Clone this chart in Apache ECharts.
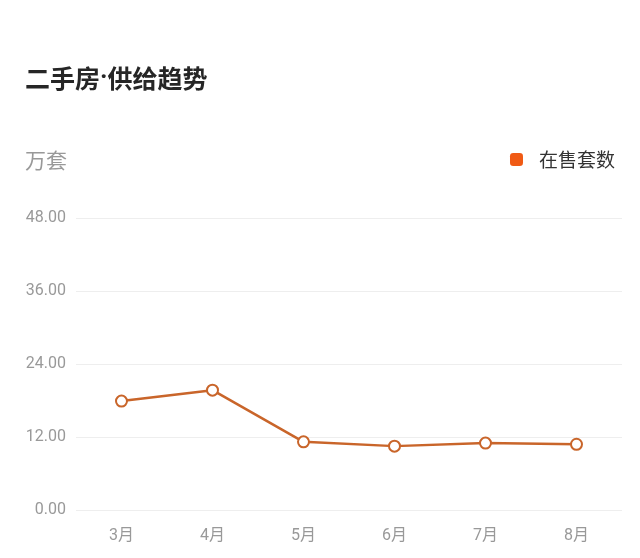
<!DOCTYPE html>
<html>
<head>
<meta charset="utf-8">
<script src="https://cdn.jsdelivr.net/npm/echarts@6/dist/echarts.min.js"></script>
<style>
html,body{margin:0;padding:0;background:#fff;}
#c{width:640px;height:558px;}
</style>
</head>
<body>
<div id="c"></div>
<script>
const categories = ['3月','4月','5月','6月','7月','8月'];
const supplyValues = [17.9, 19.7, 11.2, 10.5, 11.0, 10.8];
const yTicks = [0, 12, 24, 36, 48];
const seriesName = '在售套数';

const FONT = 'Roboto, "Noto Sans CJK SC", sans-serif';
const CJK = '"Noto Sans CJK SC", sans-serif';
const chart = echarts.init(document.getElementById('c'));
chart.setOption({
  backgroundColor: '#fff',
  animation: false,
  title: [
    { text: '{a|二手房}{b|·}{a|供给趋势}', left: 25, top: 66, padding: 0,
      textStyle: { rich: {
        a: { fontFamily: CJK, fontSize: 25, fontWeight: 'bold', color: '#262626' },
        b: { fontFamily: 'Roboto, sans-serif', fontSize: 25, fontWeight: 'bold', color: '#262626' }
      } } },
    { text: '万套', left: 25, top: 150, padding: 0,
      textStyle: { fontFamily: CJK, fontSize: 21, fontWeight: 'normal', color: '#999' } }
  ],
  legend: {
    right: 20, top: 145,
    itemWidth: 13, itemHeight: 13, itemGap: 10,
    icon: 'roundRect',
    textStyle: { fontFamily: CJK, fontSize: 19, color: '#333', padding: [0,0,0,11] },
    data: [{ name: seriesName, itemStyle: { color: '#f05a14', borderWidth: 0 } }]
  },
  grid: { left: 76, right: 18, top: 218, bottom: 48 },
  xAxis: {
    type: 'category',
    data: categories,
    boundaryGap: true,
    axisLine: { show: false },
    axisTick: { show: false },
    axisLabel: { color: '#999', fontSize: 16, fontFamily: FONT, margin: 18 }
  },
  yAxis: {
    type: 'value',
    min: yTicks[0], max: yTicks[yTicks.length-1], interval: 12,
    axisLine: { show: false },
    axisTick: { show: false },
    splitLine: { lineStyle: { color: '#eeeeee', width: 1 } },
    axisLabel: { color: '#999', fontSize: 16, fontFamily: FONT, margin: 10,
      formatter: v => v.toFixed(2) }
  },
  series: [{
    name: seriesName,
    type: 'line',
    data: supplyValues,
    symbol: 'circle',
    symbolSize: 11,
    lineStyle: { color: '#c9652a', width: 2.5 },
    itemStyle: { color: '#fff', borderColor: '#c9652a', borderWidth: 2 }
  }]
});
</script>
</body>
</html>
